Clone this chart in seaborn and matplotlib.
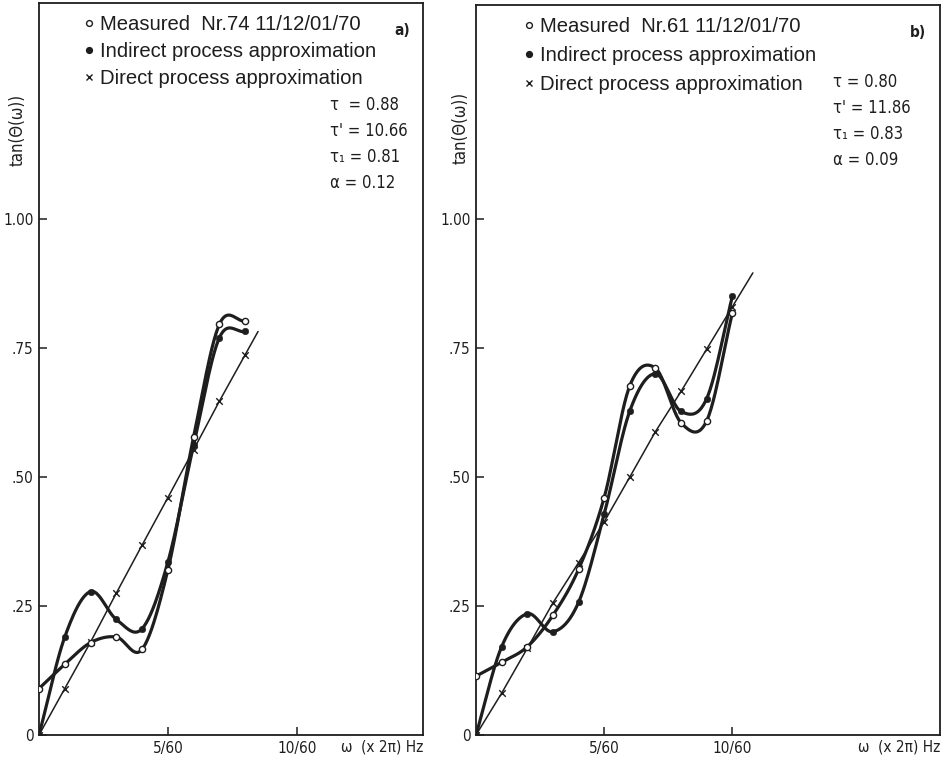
import numpy as np
import pandas as pd
import seaborn as sns
import matplotlib
matplotlib.use('Agg')
import matplotlib.pyplot as plt
from matplotlib.lines import Line2D

sns.set_style('ticks')
plt.rcParams['font.family'] = ['Liberation Sans', 'DejaVu Sans']

# frequency index, in units of 1/60 Hz (x 2pi)
k_a = [0, 1, 2, 3, 4, 5, 6, 7, 8]
meas_a = [0.09, 0.137, 0.179, 0.19, 0.166, 0.32, 0.578, 0.796, 0.802]
ind_a = [0.0, 0.19, 0.278, 0.224, 0.206, 0.335, 0.562, 0.77, 0.782]
dir_a = [0.0, 0.09, 0.18, 0.275, 0.368, 0.46, 0.553, 0.647, 0.737]

k_b = [0, 1, 2, 3, 4, 5, 6, 7, 8, 9, 10]
meas_b = [0.114, 0.141, 0.171, 0.232, 0.321, 0.46, 0.677, 0.711, 0.605, 0.609, 0.818]
ind_b = [0.0, 0.171, 0.235, 0.2, 0.257, 0.428, 0.628, 0.7, 0.627, 0.652, 0.85]
dir_b = [0.0, 0.081, 0.168, 0.256, 0.334, 0.413, 0.5, 0.588, 0.666, 0.748, 0.83]

legend_a = ['Measured  Nr.74 11/12/01/70', 'Indirect process approximation',
            'Direct process approximation']
legend_b = ['Measured  Nr.61 11/12/01/70', 'Indirect process approximation',
            'Direct process approximation']
params_a = ['τ  = 0.88', "τ' = 10.66", 'τ₁ = 0.81', 'α = 0.12']
params_b = ['τ = 0.80', "τ' = 11.86", 'τ₁ = 0.83', 'α = 0.09']

yticks = [0, 0.25, 0.5, 0.75, 1.0]
ytick_labels = ['0', '.25', '.50', '.75', '1.00']
xticks = [5, 10]
xtick_labels = ['5/60', '10/60']

INK = '#1e1e1e'
NARROW = dict(family='DejaVu Sans', stretch='condensed')


def smooth(x, y, n=24):
    '''cubic hermite curve through the points (catmull-rom tangents)'''
    x = np.asarray(x, float)
    y = np.asarray(y, float)
    m = np.gradient(y, x)
    xs, ys = [], []
    t = np.linspace(0, 1, n, endpoint=False)
    for i in range(len(x) - 1):
        h = x[i + 1] - x[i]
        h00 = 2 * t**3 - 3 * t**2 + 1
        h10 = t**3 - 2 * t**2 + t
        h01 = -2 * t**3 + 3 * t**2
        h11 = t**3 - t**2
        ys.append(h00 * y[i] + h10 * h * m[i] + h01 * y[i + 1] + h11 * h * m[i + 1])
        xs.append(x[i] + t * h)
    xs.append([x[-1]])
    ys.append([y[-1]])
    return np.concatenate(xs), np.concatenate(ys)


def panel(ax, k, meas, ind, direct, ext, xmax, ymax, labels, params,
          name, name_pos, leg_pos, leg_space, par_pos, ylab_pos):
    for vals in (meas, ind):
        sx, sy = smooth(k, vals)
        sns.lineplot(x=sx, y=sy, ax=ax, color=INK, lw=2.3, sort=False,
                     estimator=None)
    # direct approximation is a straight line, drawn a bit past the last point
    slope = (direct[-1] - direct[-2]) / (k[-1] - k[-2])
    lx = list(k) + [k[-1] + ext]
    ly = list(direct) + [direct[-1] + slope * ext]
    sns.lineplot(x=lx, y=ly, ax=ax, color=INK, lw=1.1, sort=False, estimator=None)

    sns.scatterplot(x=k, y=direct, ax=ax, marker='x', s=22, color=INK,
                    linewidth=1.0, zorder=4)
    sns.scatterplot(x=k, y=ind, ax=ax, marker='o', s=22, color=INK,
                    edgecolor=INK, zorder=5)
    sns.scatterplot(x=k, y=meas, ax=ax, marker='o', s=20, color='white',
                    edgecolor=INK, linewidth=1.0, zorder=6)

    ax.set_xlim(0, xmax)
    ax.set_ylim(0, ymax)
    ax.set_xticks(xticks)
    ax.set_xticklabels(xtick_labels, fontsize=11, **NARROW)
    ax.set_yticks(yticks)
    ax.set_yticklabels(ytick_labels, fontsize=11, **NARROW)
    ax.tick_params(direction='in', length=6, width=1.1, colors=INK, pad=4)
    for sp in ax.spines.values():
        sp.set_visible(True)
        sp.set_linewidth(1.3)
        sp.set_color(INK)

    ax.set_ylabel('tan(Θ(ω))', fontsize=12, color=INK, **NARROW)
    ax.yaxis.set_label_coords(*ylab_pos)
    ax.set_xlabel('')
    ax.text(1.0, -0.016, 'ω  (x 2π) Hz', transform=ax.transAxes, ha='right',
            va='center', fontsize=11, color=INK, **NARROW)

    handles = [
        Line2D([], [], ls='', marker='o', ms=4.2, mfc='white', mec=INK, mew=1.0),
        Line2D([], [], ls='', marker='o', ms=4.2, mfc=INK, mec=INK),
        Line2D([], [], ls='', marker='x', ms=4.2, mec=INK, mew=1.0),
    ]
    ax.legend(handles, labels, loc='upper left', bbox_to_anchor=leg_pos,
              frameon=False, prop={'family': 'Liberation Sans', 'size': 14.6},
              handlelength=0.5, handletextpad=0.29, labelspacing=leg_space,
              borderpad=0, borderaxespad=0, labelcolor=INK)

    for i, p in enumerate(params):
        ax.text(par_pos[0], par_pos[1] - i * par_pos[2], p, transform=ax.transAxes,
                ha='left', va='center', fontsize=12, color=INK, **NARROW)
    ax.text(name_pos[0], name_pos[1], name, transform=ax.transAxes, ha='center',
            va='center', fontsize=11, color=INK, weight='bold', **NARROW)


fig = plt.figure(figsize=(9.49, 7.63), dpi=100)
W, H = 949, 763
ax_a = fig.add_axes([39 / W, (H - 735) / H, 384 / W, 732 / H])
ax_b = fig.add_axes([476 / W, (H - 735) / H, 464 / W, 730 / H])

panel(ax_a, k_a, meas_a, ind_a, dir_a, ext=0.5, xmax=14.9, ymax=732 / 516,
      labels=legend_a, params=params_a, name='a)', name_pos=(0.945, 0.963),
      leg_pos=(0.117, 0.984), leg_space=0.41, par_pos=(0.758, 0.861, 0.0357),
      ylab_pos=(-0.031, 0.826))
panel(ax_b, k_b, meas_b, ind_b, dir_b, ext=0.8, xmax=18.1, ymax=730 / 516,
      labels=legend_b, params=params_b, name='b)', name_pos=(0.953, 0.963),
      leg_pos=(0.103, 0.984), leg_space=0.5, par_pos=(0.769, 0.895, 0.0357),
      ylab_pos=(-0.013, 0.832))

fig.savefig('out.png', dpi=100, facecolor='white')
